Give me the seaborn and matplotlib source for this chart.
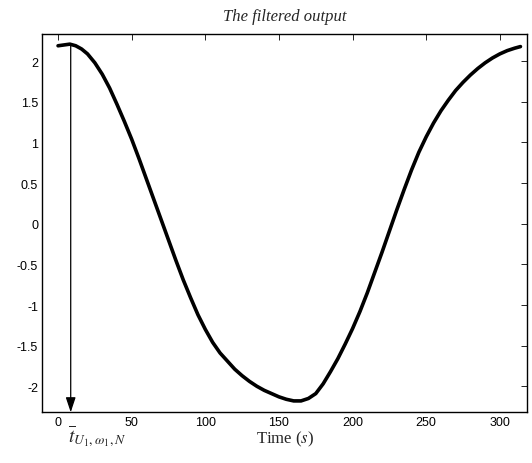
import matplotlib
matplotlib.use("Agg")
import matplotlib.pyplot as plt
import seaborn as sns

# values
time_s = [0, 4, 8, 12, 16, 20, 25, 30, 35, 40, 45, 50, 55, 60, 65, 70, 75,
          80, 85, 90, 95, 100, 105, 110, 115, 120, 125, 130, 135, 140, 145,
          150, 155, 160, 165, 170, 175, 180, 185, 190, 195, 200, 205, 210,
          215, 220, 225, 230, 235, 240, 245, 250, 255, 260, 265, 270, 275,
          280, 285, 290, 295, 300, 305, 310, 314]
output = [2.19, 2.20, 2.21, 2.19, 2.15, 2.09, 1.98, 1.84, 1.67, 1.47, 1.26,
          1.04, 0.80, 0.55, 0.30, 0.05, -0.20, -0.45, -0.69, -0.91, -1.12,
          -1.30, -1.46, -1.59, -1.69, -1.79, -1.87, -1.94, -2.00, -2.05,
          -2.09, -2.13, -2.16, -2.18, -2.18, -2.15, -2.09, -1.97, -1.82,
          -1.66, -1.48, -1.29, -1.08, -0.85, -0.60, -0.35, -0.09, 0.17, 0.42,
          0.66, 0.88, 1.07, 1.24, 1.39, 1.52, 1.64, 1.74, 1.83, 1.91, 1.98,
          2.04, 2.09, 2.13, 2.16, 2.18]
x_ticks = [0, 50, 100, 150, 200, 250, 300]
y_ticks = [-2, -1.5, -1, -0.5, 0, 0.5, 1, 1.5, 2]
y_tick_labels = ["-2", "-1.5", "-1", "-0.5", "0", "0.5", "1", "1.5", "2"]
t_mark = 8.6

sns.set_style("white")
plt.rcParams["font.family"] = ["Liberation Sans", "DejaVu Sans"]
plt.rcParams["axes.unicode_minus"] = False
plt.rcParams["mathtext.fontset"] = "stix"

fig = plt.figure(figsize=(5.32, 4.64), dpi=100)
ax = fig.add_axes([0.0795, 0.1093, 0.911, 0.8153])

sns.lineplot(x=time_s, y=output, color="black", linewidth=2.6, ax=ax)

ax.set_xlim(-10.7, 318.4)
ax.set_ylim(-2.32, 2.335)
ax.set_xticks(x_ticks)
ax.set_xticklabels([str(v) for v in x_ticks])
ax.set_yticks(y_ticks)
ax.set_yticklabels(y_tick_labels)
ax.tick_params(direction="in", length=4, width=0.6, labelsize=9,
               top=True, right=True, colors="black", pad=3)
for s in ax.spines.values():
    s.set_linewidth(1.0)
    s.set_color("black")

ax.annotate("", xy=(t_mark, -2.32), xytext=(t_mark, 2.2),
            arrowprops=dict(arrowstyle="-|>,head_length=0.9,head_width=0.3",
                            color="black", lw=0.9, shrinkA=0, shrinkB=0))
ax.annotate(r"$\overline{t}_{U_1,\omega_1,N}$", xy=(t_mark - 2.0, 0),
            xycoords=("data", "axes fraction"), xytext=(0, -7),
            textcoords="offset points", ha="left", va="top", fontsize=14)

ax.set_title("The filtered output", fontsize=12, style="italic",
             family=["Liberation Serif"], pad=10)
ax.set_xlabel(r"Time ($s$)", fontsize=12, family=["Liberation Serif"], labelpad=0)
ax.set_ylabel("")

fig.savefig("out.png", dpi=100)
